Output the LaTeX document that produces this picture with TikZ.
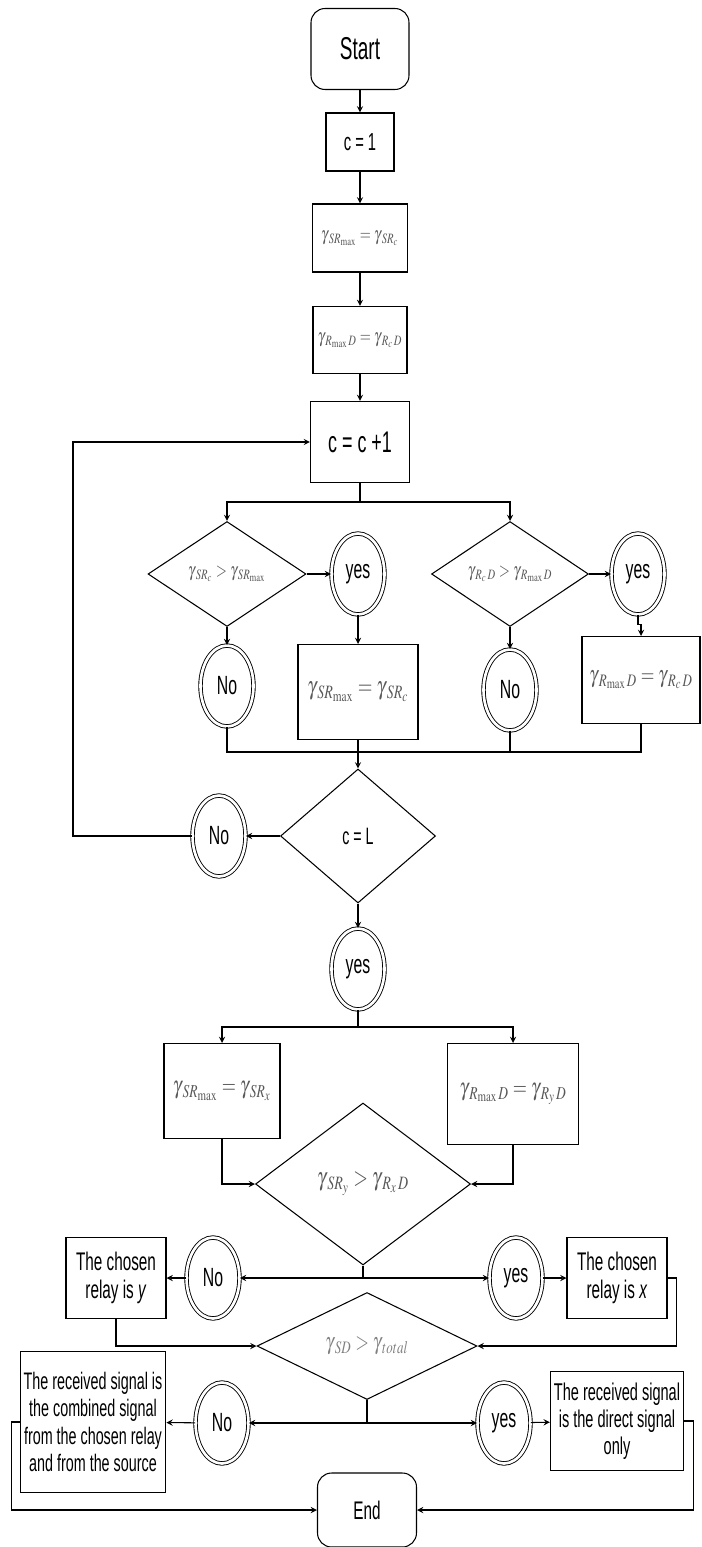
\documentclass[tikz,border=0pt]{standalone}
\usepackage{mathptmx}
\usepackage{fontspec}
\setmainfont{Liberation Sans}[FakeStretch=0.6]
\usepackage{graphicx}
\usetikzlibrary{shapes.geometric}
\definecolor{eqgray}{gray}{0.35}
\newcommand{\greq}[1]{\textcolor{eqgray}{\scalebox{0.74}[1]{$#1$}}}
\newcommand{\gsub}[1]{\gamma_{\mkern3mu #1}}

\begin{document}
\begin{tikzpicture}[
    x=0.02cm, y=-0.02cm,
    line width=0.6pt,
    term/.style={draw, rounded corners=8pt, minimum width=1.96cm,
                 minimum height=1.62cm, font=\fontsize{14}{16}\selectfont},
    proc/.style={draw, inner sep=2pt, align=center},
    dec/.style={draw, diamond, inner sep=0pt},
    ans/.style={draw, ellipse, double, double distance=1.5pt, line width=0.5pt,
                minimum width=1.06cm, minimum height=1.62cm, inner sep=0pt,
                font=\fontsize{15}{17}\selectfont},
    flow/.style={->, >=stealth},
  ]
    \useasboundingbox (0,0) rectangle (701,1547);

    % Initialisation
    \node[term, font=\fontsize{18}{20}\selectfont] (start) at (360,49) {Start};
    \node[proc, minimum width=1.36cm, minimum height=1.16cm,
          font=\fontsize{14}{16}\selectfont] (cone) at (360,142) {c = 1};
    \node[proc, minimum width=1.9cm, minimum height=1.36cm,
          font=\fontsize{11}{13}\selectfont] (srinit) at (360,238)
          {\greq{\gsub{SR_{\max}} = \gsub{SR_c}}};
    \node[proc, minimum width=1.88cm, minimum height=1.34cm,
          font=\fontsize{11}{13}\selectfont] (rdinit) at (360,340)
          {\greq{\gsub{R_{\max}\mkern2mu D} = \gsub{R_c\mkern2mu D}}};
    \node[proc, minimum width=1.98cm, minimum height=1.62cm,
          font=\fontsize{17}{19}\selectfont] (inc) at (360,442) {c = c +1};

    \draw[flow] (start) -- (cone);
    \draw[flow] (cone) -- (srinit);
    \draw[flow] (srinit) -- (rdinit);
    \draw[flow] (rdinit) -- (inc);

    % Loop body
    \coordinate (split) at (360,502);
    \node[dec, minimum width=3.16cm, minimum height=2.1cm,
          font=\fontsize{11}{13}\selectfont] (dsr) at (227,574)
          {\greq{\gsub{SR_c} > \gsub{SR_{\max}}}};
    \node[dec, minimum width=3.14cm, minimum height=2.1cm,
          font=\fontsize{11}{13}\selectfont] (drd) at (510,574)
          {\greq{\gsub{R_c\mkern2mu D} > \gsub{R_{\max}\mkern2mu D}}};
    \node[ans] (yesa) at (358,574) {yes};
    \node[ans] (yesb) at (638,574) {yes};
    \node[ans] (noa) at (227,686) {No};
    \node[ans] (nob) at (510,690) {No};
    \node[proc, minimum width=2.4cm, minimum height=1.9cm,
          font=\fontsize{14.5}{16}\selectfont] (srupd) at (358,692)
          {\greq{\gsub{SR_{\max}} = \gsub{SR_c}}};
    \node[proc, minimum width=2.36cm, minimum height=1.74cm,
          font=\fontsize{13.5}{16}\selectfont] (rdupd) at (641,680)
          {\greq{\gsub{R_{\max}\mkern2mu D} = \gsub{R_c\mkern2mu D}}};
    \coordinate (join) at (358,752);

    \draw (inc) -- (split);
    \draw[flow] (split) -| (dsr.north);
    \draw[flow] (split) -| (drd.north);
    \draw[flow] (dsr) -- (yesa);
    \draw[flow] (drd) -- (yesb);
    \draw[flow] (dsr) -- (noa);
    \draw[flow] (drd) -- (nob);
    \draw[flow] (yesa) -- (srupd);
    \draw[flow] (yesb.south) -- ++(0,10) -| (rdupd.north);
    \draw (noa.south) |- (join) -| (rdupd.south);
    \draw (nob.south) -- (nob.south |- join);

    % Loop test
    \node[dec, minimum width=3.1cm, minimum height=2.68cm,
          font=\fontsize{13.5}{15}\selectfont] (dcl) at (358,836) {c = L};
    \node[ans] (noc) at (219,836) {No};
    \node[ans] (yesc) at (358,969) {yes};
    \coordinate (back) at (73,442);

    \draw[flow] (srupd) -- (dcl);
    \draw[flow] (dcl) -- (noc);
    \draw[flow] (noc.west) -| (back) -- (inc.west);
    \draw[flow] (dcl) -- (yesc);

    % Relay selection
    \coordinate (split2) at (358,1027);
    \node[proc, minimum width=2.32cm, minimum height=1.9cm,
          font=\fontsize{14}{16}\selectfont] (srsel) at (222,1091)
          {\greq{\gsub{SR_{\max}} = \gsub{SR_x}}};
    \node[proc, minimum width=2.62cm, minimum height=2.02cm,
          font=\fontsize{14}{16}\selectfont] (rdsel) at (513,1094)
          {\greq{\gsub{R_{\max}\mkern2mu D} = \gsub{R_y\mkern2mu D}}};
    \node[dec, minimum width=4.3cm, minimum height=3.24cm,
          font=\fontsize{14.5}{16}\selectfont] (dxy) at (363,1184)
          {\greq{\gsub{SR_y} > \gsub{R_x\mkern2mu D}}};

    \draw (yesc) -- (split2);
    \draw[flow] (split2) -| (srsel.north);
    \draw[flow] (split2) -| (rdsel.north);
    \draw[flow] (srsel.south) |- (dxy.west);
    \draw[flow] (rdsel.south) |- (dxy.east);

    \coordinate (fork) at (363,1278);
    \node[ans] (nod) at (213,1278) {No};
    \node[ans] (yesd) at (516,1278) {yes};
    \node[proc, minimum width=2cm, minimum height=1.62cm,
          font=\fontsize{14.5}{16}\selectfont] (relayy) at (116,1278)
          {The chosen\\relay is \textit{y}};
    \node[proc, minimum width=2cm, minimum height=1.62cm,
          font=\fontsize{14.5}{16}\selectfont] (relayx) at (617,1278)
          {The chosen\\relay is \textit{x}};

    \draw (dxy.south) -- (fork);
    \draw[flow] (fork) -- (nod);
    \draw[flow] (fork) -- (yesd);
    \draw[flow] (nod) -- (relayy);
    \draw[flow] (yesd) -- (relayx);

    % Direct link test
    \node[dec, minimum width=4.4cm, minimum height=2.14cm,
          font=\fontsize{13.5}{15}\selectfont] (dsd) at (367,1346)
          {\textcolor{gray}{\scalebox{0.74}[1]{$\gsub{SD} > \gsub{total}$}}};
    \coordinate (fork2) at (367,1423);
    \node[ans] (noe) at (222,1423) {No};
    \node[ans] (yese) at (504,1423) {yes};
    \node[proc, minimum width=2.9cm, minimum height=2.82cm,
          font=\fontsize{13.6}{15.5}\selectfont] (comb) at (93,1422)
          {The received signal is\\the combined signal\\from the chosen relay\\and from the source};
    \node[proc, minimum width=2.56cm, minimum height=1.98cm,
          font=\fontsize{13.8}{15.5}\selectfont] (direct) at (617,1421)
          {The received signal\\is the direct signal\\only};
    \node[term, minimum width=1.98cm, minimum height=1.48cm,
          font=\fontsize{14.5}{16}\selectfont] (end) at (367,1510) {End};

    \draw[flow] (relayy.south) |- (dsd.west);
    \draw[flow] (relayx.east) -- ++(9,0) |- (dsd.east);
    \draw (dsd.south) -- (fork2);
    \draw[flow] (fork2) -- (noe);
    \draw[flow] (fork2) -- (yese);
    \draw[flow] (noe) -- (comb);
    \draw[flow] (yese) -- (direct);
    \draw[flow] (comb.west) -- ++(-8,0) |- (end.west);
    \draw[flow] (direct.east) -- ++(9,0) |- (end.east);
  \end{tikzpicture}
\end{document}
